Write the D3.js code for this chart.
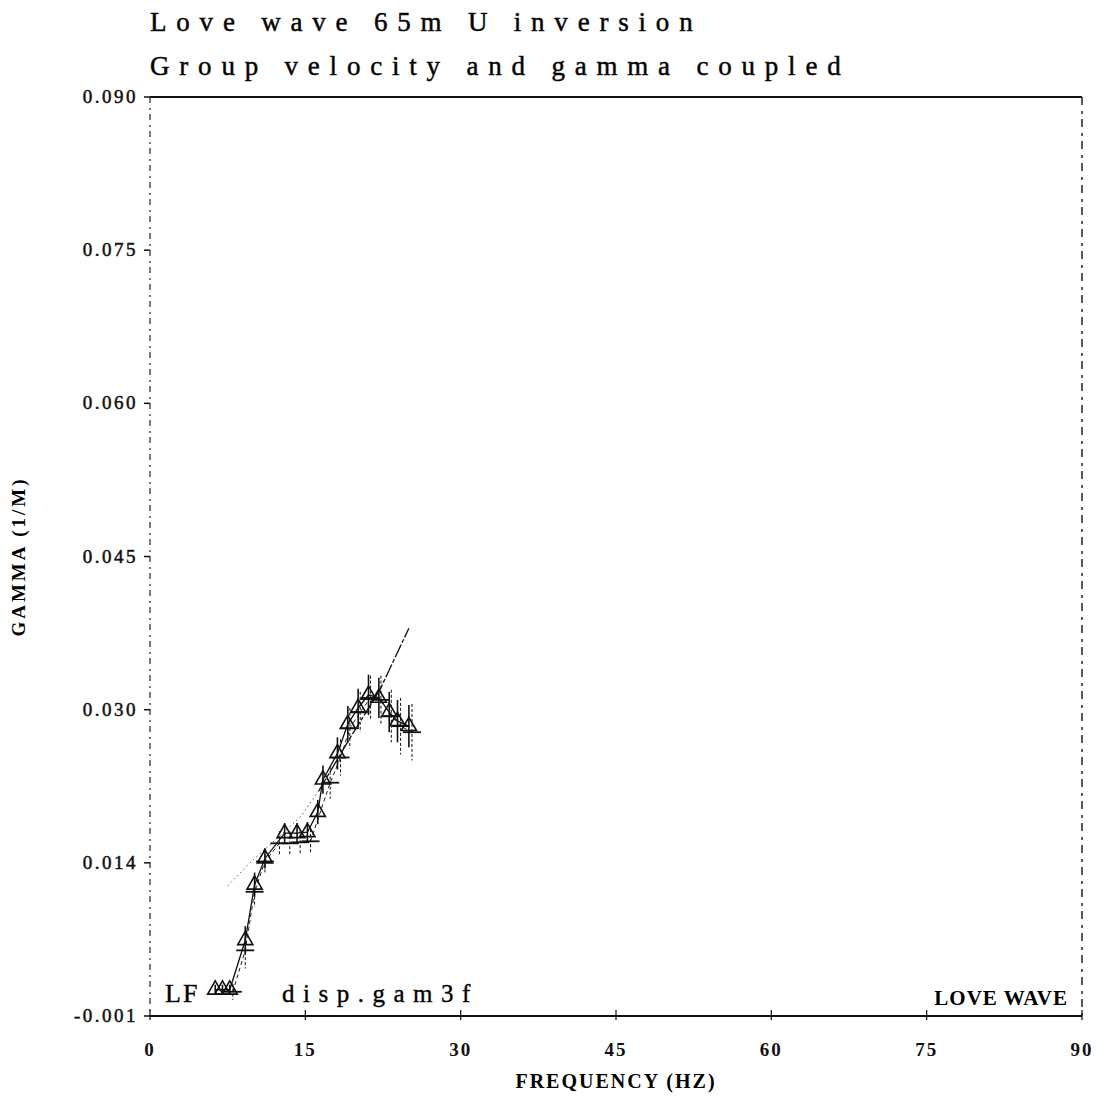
<!DOCTYPE html>
<html>
<head>
<meta charset="utf-8">
<script src="https://cdn.jsdelivr.net/npm/d3@7"></script>
<style>
  body { margin: 0; background: #fff; }
  svg { display: block; font-family: "Liberation Serif", "DejaVu Serif", serif; }
</style>
</head>
<body>
<svg id="chart"></svg>
<script>
// observed gamma (triangles) with error bars
const obsFreq  = [6.3, 7.0, 7.7, 9.2, 10.1, 11.1, 13.0, 14.2, 15.2, 16.2, 16.7, 18.1, 19.1, 20.1, 21.1, 22.1, 23.1, 23.9, 25.0];
const obsGamma = [0.0016, 0.0016, 0.0016, 0.0065, 0.0120, 0.0146, 0.0171, 0.0171, 0.0172, 0.0192, 0.0224, 0.0250, 0.0279, 0.0295, 0.0308, 0.0305, 0.0291, 0.0282, 0.0277];
const obsErr   = [0.0005, 0.0005, 0.0005, 0.0014, 0.0012, 0.0010, 0.0010, 0.0010, 0.0010, 0.0012, 0.0014, 0.0016, 0.0018, 0.0019, 0.0020, 0.0020, 0.0020, 0.0021, 0.0021];

// predicted values (+ markers)
const predFreq  = [8.0, 9.2, 10.1, 11.1, 12.5, 13.5, 14.5, 15.5, 17.4, 18.4, 19.3, 20.3, 21.3, 22.3, 23.3, 24.2, 25.3];
const predGamma = [0.0014, 0.0055, 0.0113, 0.0143, 0.0161, 0.0161, 0.0162, 0.0163, 0.0221, 0.0246, 0.0275, 0.0291, 0.0305, 0.0303, 0.0287, 0.0277, 0.0271];
const predErr   = [0.0008, 0.0018, 0.0015, 0.0012, 0.0012, 0.0012, 0.0012, 0.0012, 0.0016, 0.0018, 0.0020, 0.0020, 0.0022, 0.0024, 0.0026, 0.0028, 0.0028];

// smooth model curve
const modelFreq  = [7.5, 10.0, 12.5, 14.6, 16.3, 19.3, 22.2, 25.0];
const modelGamma = [0.0119, 0.0145, 0.0168, 0.0188, 0.0213, 0.0265, 0.0313, 0.0374];

const xTicks = [0, 15, 30, 45, 60, 75, 90];
const yTickValues = [-0.001, 0.014167, 0.029333, 0.0445, 0.059667, 0.074833, 0.090];
const yTickLabels = ["-0.001", "0.014", "0.030", "0.045", "0.060", "0.075", "0.090"];

const w = 1102, h = 1097;
const pLeft = 150, pRight = 1082, pTop = 97, pBottom = 1016;

const svg = d3.select("#chart").attr("width", w).attr("height", h);

const x = d3.scaleLinear().domain([0, 90]).range([pLeft, pRight]);
const y = d3.scaleLinear().domain([-0.001, 0.090]).range([pBottom, pTop]);

// frame
svg.append("line").attr("x1", pLeft).attr("x2", pRight).attr("y1", pTop).attr("y2", pTop)
  .attr("stroke", "#111").attr("stroke-width", 2);
svg.append("line").attr("x1", pLeft).attr("x2", pRight).attr("y1", pBottom).attr("y2", pBottom)
  .attr("stroke", "#111").attr("stroke-width", 2);
svg.append("line").attr("x1", pLeft).attr("x2", pLeft).attr("y1", pTop).attr("y2", pBottom)
  .attr("stroke", "#222").attr("stroke-width", 1.2).attr("stroke-dasharray", "6,5,2,4");
svg.append("line").attr("x1", pRight).attr("x2", pRight).attr("y1", pTop).attr("y2", pBottom)
  .attr("stroke", "#222").attr("stroke-width", 1.5).attr("stroke-dasharray", "8,6,3,5");

// y ticks
const yAx = svg.append("g");
yAx.selectAll("line").data(yTickValues).enter().append("line")
  .attr("x1", pLeft - 6).attr("x2", pLeft)
  .attr("y1", d => y(d)).attr("y2", d => y(d))
  .attr("stroke", "#111").attr("stroke-width", 1.5);
yAx.selectAll("text").data(yTickValues).enter().append("text")
  .attr("x", pLeft - 12).attr("y", d => y(d) + 6)
  .attr("text-anchor", "end")
  .attr("font-size", 19).attr("letter-spacing", 2.5)
  .attr("fill", "#111").attr("stroke", "#111").attr("stroke-width", 0.5)
  .text((d, i) => yTickLabels[i]);

// x ticks
const xAx = svg.append("g");
xAx.selectAll("line").data(xTicks).enter().append("line")
  .attr("x1", d => x(d)).attr("x2", d => x(d))
  .attr("y1", pBottom - 6).attr("y2", pBottom + 4)
  .attr("stroke", "#111").attr("stroke-width", 1.2);
xAx.selectAll("text").data(xTicks).enter().append("text")
  .attr("x", d => x(d)).attr("y", pBottom + 40)
  .attr("text-anchor", "middle")
  .attr("font-size", 19).attr("font-weight", "bold").attr("letter-spacing", 2)
  .attr("fill", "#111")
  .text(d => d);

// axis titles
svg.append("text").attr("x", (pLeft + pRight) / 2).attr("y", pBottom + 72)
  .attr("text-anchor", "middle").attr("font-size", 20).attr("font-weight", "bold")
  .attr("letter-spacing", 2)
  .text("FREQUENCY (HZ)");
svg.append("text").attr("transform", "translate(25," + ((pTop + pBottom) / 2) + ") rotate(-90)")
  .attr("text-anchor", "middle").attr("font-size", 19).attr("font-weight", "bold")
  .attr("letter-spacing", 3)
  .text("GAMMA (1/M)");

// titles
svg.append("text").attr("x", pLeft).attr("y", 31)
  .attr("font-size", 27).attr("letter-spacing", 9.8)
  .attr("stroke", "#111").attr("stroke-width", 0.5)
  .text("Love wave 65m U inversion");
svg.append("text").attr("x", pLeft).attr("y", 75)
  .attr("font-size", 27).attr("letter-spacing", 9.8)
  .attr("stroke", "#111").attr("stroke-width", 0.5)
  .text("Group velocity and gamma coupled");

// in-plot labels
svg.append("text").attr("x", 165).attr("y", 1002).attr("font-size", 26).attr("letter-spacing", 2)
  .attr("stroke", "#111").attr("stroke-width", 0.4)
  .text("LF");
svg.append("text").attr("x", 282).attr("y", 1002).attr("font-size", 25).attr("letter-spacing", 8.5)
  .attr("stroke", "#111").attr("stroke-width", 0.4)
  .text("disp.gam3f");
svg.append("text").attr("x", 1068).attr("y", 1005).attr("text-anchor", "end")
  .attr("font-size", 21).attr("font-weight", "bold").attr("letter-spacing", 1)
  .text("LOVE WAVE");

// model curve: dotted at low frequency, solid above
const modelPts = modelFreq.map((f, i) => [f, modelGamma[i]]);
const line = d3.line().x(d => x(d[0])).y(d => y(d[1]));
svg.append("path").datum(modelPts.filter(d => d[0] <= 16.3))
  .attr("fill", "none").attr("stroke", "#555").attr("stroke-width", 1)
  .attr("stroke-dasharray", "1.5,3").attr("d", line);
svg.append("path").datum(modelPts.filter(d => d[0] >= 16.3))
  .attr("fill", "none").attr("stroke", "#111").attr("stroke-width", 1.3)
  .attr("stroke-dasharray", "14,2,4,2").attr("d", line);

// predicted series
const predPts = predFreq.map((f, i) => [f, predGamma[i], predErr[i]]);
svg.append("path").datum(predPts)
  .attr("fill", "none").attr("stroke", "#222").attr("stroke-width", 1)
  .attr("stroke-dasharray", "4,3").attr("d", line);
const pg = svg.append("g").attr("stroke", "#111");
pg.selectAll("line.eb").data(predPts).enter().append("line").attr("class", "eb")
  .attr("x1", d => x(d[0])).attr("x2", d => x(d[0]))
  .attr("y1", d => y(d[1] + d[2])).attr("y2", d => y(d[1] - d[2]))
  .attr("stroke-width", 1).attr("stroke-dasharray", "3,2");
pg.selectAll("line.hb").data(predPts).enter().append("line").attr("class", "hb")
  .attr("x1", d => x(d[0]) - 9).attr("x2", d => x(d[0]) + 9)
  .attr("y1", d => y(d[1])).attr("y2", d => y(d[1]))
  .attr("stroke-width", 1.8);

// observed series
const obsPts = obsFreq.map((f, i) => [f, obsGamma[i], obsErr[i]]);
svg.append("path").datum(obsPts)
  .attr("fill", "none").attr("stroke", "#111").attr("stroke-width", 1.3).attr("d", line);
const og = svg.append("g");
og.selectAll("line").data(obsPts).enter().append("line")
  .attr("x1", d => x(d[0])).attr("x2", d => x(d[0]))
  .attr("y1", d => y(d[1] + d[2])).attr("y2", d => y(d[1] - d[2]))
  .attr("stroke", "#111").attr("stroke-width", 1.6);
og.selectAll("path").data(obsPts).enter().append("path")
  .attr("transform", d => "translate(" + x(d[0]) + "," + y(d[1]) + ")")
  .attr("d", d3.symbol().type(d3.symbolTriangle).size(100))
  .attr("fill", "none").attr("stroke", "#111").attr("stroke-width", 1.6);
</script>
</body>
</html>
